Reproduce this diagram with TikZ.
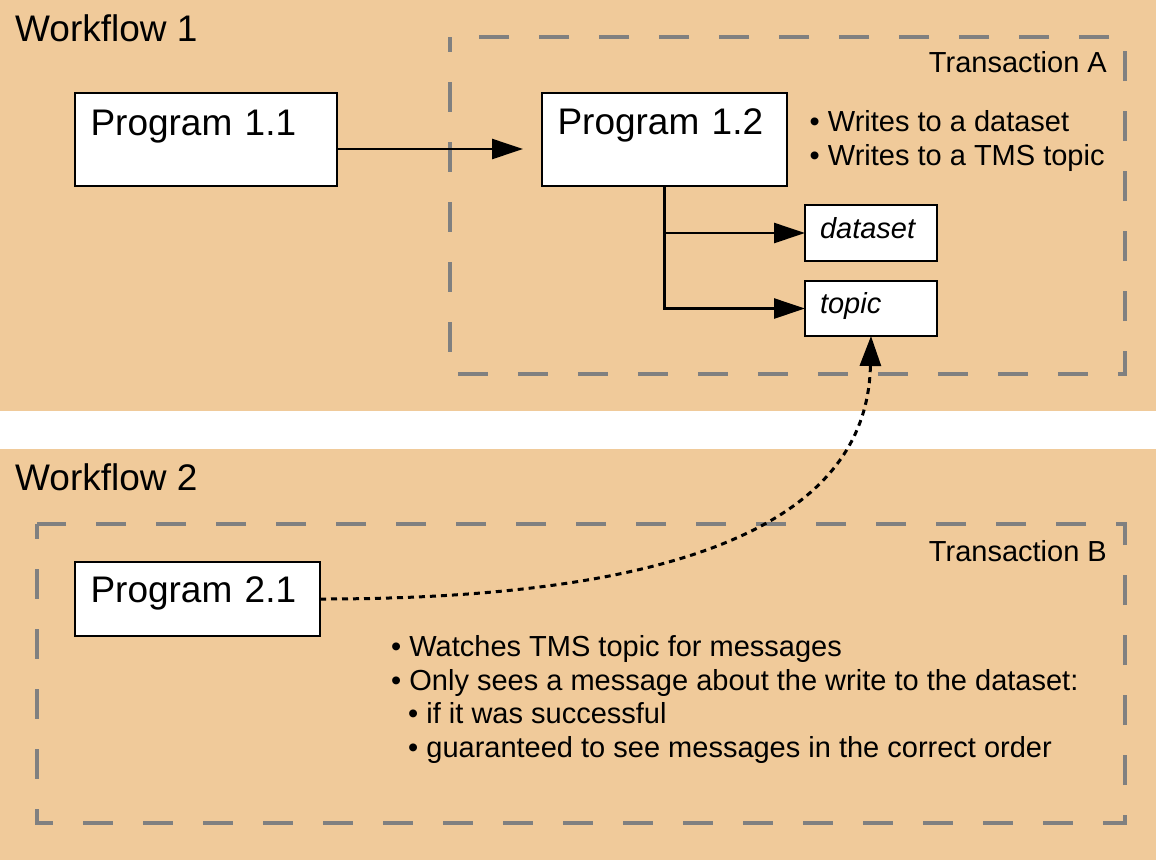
\documentclass[tikz,border=0pt]{standalone}
\usepackage{fontspec}
\setmainfont{Liberation Sans}
\usetikzlibrary{arrows.meta,calc}
\definecolor{panel}{RGB}{240,202,154}
\definecolor{dashgray}{RGB}{128,128,128}
\begin{document}
\begin{tikzpicture}[x=1pt,y=-1pt,
  bigtxt/.style={font=\fontsize{37}{44}\selectfont, inner sep=0pt, anchor=base west},
  smalltxt/.style={font=\fontsize{29}{34}\selectfont, inner sep=0pt, anchor=base west},
  progbox/.style={draw=black, fill=white, line width=1.3pt, anchor=north west, align=left,
    inner ysep=0pt, inner xsep=15.5pt, outer sep=0pt, font=\fontsize{37}{44}\selectfont},
  itembox/.style={draw=black, fill=white, line width=1.3pt, anchor=north west, align=left,
    inner ysep=0pt, inner xsep=15pt, outer sep=0pt, font=\fontsize{29}{34}\selectfont\itshape,
    text width=102pt},
  txbox/.style={draw=dashgray, line width=4pt, dash pattern=on 30pt off 30pt, dash phase=15pt},
  conn/.style={draw=black, line width=2.5pt, -{Triangle[length=31pt,width=20pt]}},
  dotconn/.style={draw=black, line width=3pt, dash pattern=on 6pt off 5pt, -{Triangle[length=30pt,width=21pt]}}
]
\useasboundingbox (0,0) rectangle (1156,860);
% panels
\fill[panel] (0,0) rectangle (1156,411);
\fill[panel] (0,449) rectangle (1156,860);
% transaction boxes
\draw[txbox] (450,37) rectangle (1125,374);
\draw[txbox] (37,524) rectangle (1125,823);
% titles
\node[bigtxt] (wf1) at (15,41) {Workflow 1};
\node[bigtxt] (wf2) at (15,490) {Workflow 2};
\node[smalltxt, anchor=base east] (ta) at (1107,72) {Transaction A};
\node[smalltxt, anchor=base east] (tb) at (1107,561) {Transaction B};
% programs
\node[progbox, text width=231pt, text height=42pt, text depth=51pt] (p11) at (75,93) {Program 1.1};
\node[progbox, text width=214pt, text height=41pt, text depth=52pt, inner xsep=15.5pt] (p12) at (542,93) {Program 1.2};
\node[progbox, text width=214pt, text height=40pt, text depth=34pt] (p21) at (75,562) {Program 2.1};
\node[itembox, text height=33pt, text depth=23pt] (ds) at (805,205) {dataset};
\node[itembox, text height=32pt, text depth=23pt] (tp) at (805,281) {topic};
% bullet texts
\node[smalltxt] (n1) at (809.5,131) {• Writes to a dataset};
\node[smalltxt] (n2) at (809.5,165) {• Writes to a TMS topic};
\node[smalltxt] (m1) at (391,656) {• Watches TMS topic for messages};
\node[smalltxt] (m2) at (391,690) {• Only sees a message about the write to the dataset:};
\node[smalltxt] (m3) at (408,723) {• if it was successful};
\node[smalltxt] (m4) at (408,757) {• guaranteed to see messages in the correct order};
% connectors
\draw[conn] ($(p11.east)+(0,9.5)$) -- ($(p12.west)+(-19,9.5)$);
\draw[conn] (p12.south) |- (ds.west);
\draw[conn] (p12.south) |- (tp.west);
\draw[dotconn] (p21.east) .. controls +(430,0) and +(-3,154) .. (tp.south);
\end{tikzpicture}
\end{document}
